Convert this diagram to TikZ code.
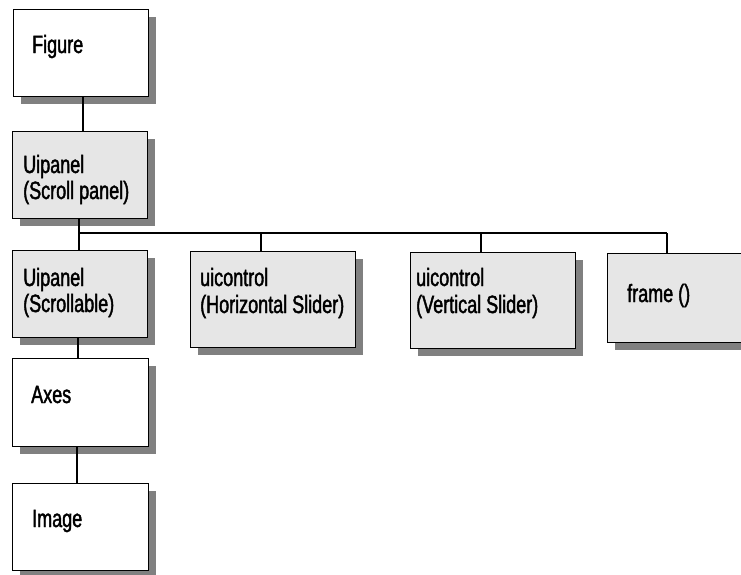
\documentclass[tikz,border=0pt]{standalone}
\usepackage{fontspec}
\setmainfont{Liberation Sans}[FakeStretch=0.72, FakeBold=1.6]
\usetikzlibrary{shadows}
\definecolor{boxgray}{HTML}{E6E6E6}
\definecolor{shadowgray}{HTML}{808080}
\tikzset{
  box/.style={draw=black, line width=1.3pt, anchor=north west, inner sep=0pt,
    drop shadow={shadow xshift=7pt, shadow yshift=-7pt, fill=shadowgray, opacity=1}},
  whitebox/.style={box, fill=white},
  graybox/.style={box, fill=boxgray},
  lbl/.style={anchor=base west, inner sep=0pt, font=\fontsize{25}{28}\selectfont},
  conn/.style={draw=black, line width=1.2pt},
}
\begin{document}
\begin{tikzpicture}[x=1pt, y=-1pt]
\useasboundingbox (0,0) rectangle (741,574);
\clip (0,0) rectangle (741,574);
% boxes
\node[whitebox, minimum width=135pt, minimum height=87pt] (fig) at (13,9) {};
\node[graybox, minimum width=135pt, minimum height=87pt] (sp) at (12,131) {};
\node[graybox, minimum width=135pt, minimum height=87pt] (sc) at (12,250) {};
\node[graybox, minimum width=165pt, minimum height=96pt] (hs) at (190,251) {};
\node[graybox, minimum width=165pt, minimum height=96pt] (vs) at (410,252) {};
\node[graybox, minimum width=150pt, minimum height=89pt] (fr) at (607,253) {};
\node[whitebox, minimum width=136pt, minimum height=88pt] (ax) at (12,358) {};
\node[whitebox, minimum width=136pt, minimum height=87pt] (im) at (12,483) {};
% labels
\node[lbl] (tfig) at (32,53) {Figure};
\node[lbl] (tsp1) at (23,173) {Uipanel};
\node[lbl] (tsp2) at (23,199) {(Scroll panel)};
\node[lbl] (tsc1) at (23,286) {Uipanel};
\node[lbl] (tsc2) at (23,312) {(Scrollable)};
\node[lbl] (ths1) at (200,286) {uicontrol};
\node[lbl] (ths2) at (200,313) {(Horizontal Slider)};
\node[lbl] (tvs1) at (416,286) {uicontrol};
\node[lbl] (tvs2) at (416,313) {(Vertical Slider)};
\node[lbl] (tfr) at (627,302) {frame ()};
\node[lbl] (tax) at (31,403) {Axes};
\node[lbl] (tim) at (32,527) {Image};
% connector columns
\coordinate (c1) at (83,0);
\coordinate (c2) at (79,0);
\coordinate (c3) at (261,0);
\coordinate (c4) at (481,0);
\coordinate (c5) at (667,0);
\coordinate (c6) at (78,0);
\coordinate (c7) at (77,0);
\coordinate (bus) at (0,233);
% connectors
\draw[conn] (fig.south -| c1) -- (sp.north -| c1);
\draw[conn] (sp.south -| c2) -- (sc.north -| c2);
\draw[conn] (bus -| c2) -- (bus -| c5);
\draw[conn] (bus -| c3) -- (hs.north -| c3);
\draw[conn] (bus -| c4) -- (vs.north -| c4);
\draw[conn] (bus -| c5) -- (fr.north -| c5);
\draw[conn] (sc.south -| c6) -- (ax.north -| c6);
\draw[conn] (ax.south -| c7) -- (im.north -| c7);
\end{tikzpicture}
\end{document}
